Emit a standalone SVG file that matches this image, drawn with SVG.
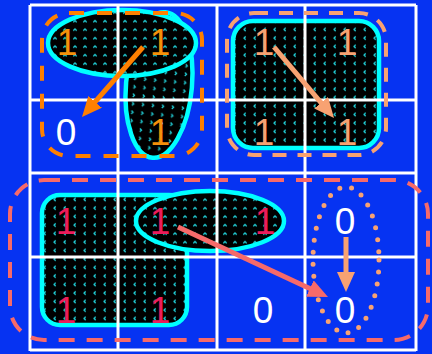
<svg xmlns="http://www.w3.org/2000/svg" width="432" height="354" viewBox="0 0 432 354">
<defs>
<style>
.bg{fill:#0633f2}
.grid line{stroke:#ffffff;stroke-width:3}
.grp{stroke:#00ffff;stroke-width:4.5}
.d{font-family:"Liberation Sans",Arial,sans-serif;font-size:37px;text-anchor:middle}
.z{fill:#ffffff}
.o{fill:#f5900a}
.p{fill:#f8a272}
.r{fill:#ec1c5a}
.dash{fill:none;stroke-width:4}
.arr{fill:none;stroke-width:5}
</style>
<pattern id="pa" width="10" height="8.5" patternUnits="userSpaceOnUse">
<rect width="10" height="8.5" fill="#000"/>
<path d="M3.3,5.2 L5,3.5 L6.7,5.2" fill="none" stroke="#22d4dc" stroke-width="1.3"/>
</pattern>
<pattern id="pb" width="10" height="8.5" patternUnits="userSpaceOnUse">
<rect width="10" height="8.5" fill="#000"/>
<path d="M3.8,2.3 L5.5,4 L3.8,5.7" fill="none" stroke="#22d4dc" stroke-width="1.3"/>
</pattern>
<pattern id="pc" width="10" height="8.5" patternUnits="userSpaceOnUse">
<rect width="10" height="8.5" fill="#000"/>
<path d="M5.7,2.3 L4,4 L5.7,5.7" fill="none" stroke="#22d4dc" stroke-width="1.3"/>
</pattern>
<marker id="mo" viewBox="0 0 20 18" refX="4" refY="9" markerWidth="20" markerHeight="18" markerUnits="userSpaceOnUse" orient="auto"><path d="M0,0 L20,9 L0,18 z" fill="#ff8000"/></marker>
<marker id="mp" viewBox="0 0 20 18" refX="4" refY="9" markerWidth="20" markerHeight="18" markerUnits="userSpaceOnUse" orient="auto"><path d="M0,0 L20,9 L0,18 z" fill="#f8a272"/></marker>
<marker id="mr" viewBox="0 0 20 18" refX="4" refY="9" markerWidth="20" markerHeight="18" markerUnits="userSpaceOnUse" orient="auto"><path d="M0,0 L20,9 L0,18 z" fill="#f76a6a"/></marker>
</defs>
<rect class="bg" x="0" y="0" width="432" height="354"/>

<g id="group-tl-vertical">
<ellipse class="grp" cx="159" cy="85" rx="33" ry="73" transform="rotate(5 159 85)" fill="url(#pb)"/>
</g>
<g id="group-tl-horizontal">
<ellipse class="grp" cx="122" cy="43" rx="74" ry="33" fill="url(#pa)"/>
</g>
<g id="group-tr-quad">
<rect class="grp" x="233" y="21" width="146" height="127" rx="20" fill="url(#pc)"/>
</g>
<g id="group-bl-quad">
<rect class="grp" x="42" y="195" width="145" height="130" rx="18" fill="url(#pc)"/>
</g>
<g id="group-b-pair">
<ellipse class="grp" cx="210" cy="221" rx="74" ry="30" fill="url(#pa)"/>
</g>

<g id="grid" class="grid">
<line x1="30" y1="5" x2="30" y2="351"/>
<line x1="118" y1="5" x2="118" y2="351"/>
<line x1="217" y1="5" x2="217" y2="351"/>
<line x1="305" y1="5" x2="305" y2="351"/>
<line x1="416" y1="5" x2="416" y2="351"/>
<line x1="30" y1="5" x2="416" y2="5"/>
<line x1="30" y1="100" x2="416" y2="100"/>
<line x1="30" y1="173" x2="416" y2="173"/>
<line x1="30" y1="257" x2="416" y2="257"/>
<line x1="30" y1="350" x2="416" y2="350"/>
</g>

<g id="region-tl">
<rect class="dash" x="42" y="13" width="160" height="143" rx="27" stroke="#ff8000" stroke-dasharray="15 13"/>
</g>
<g id="region-tr">
<rect class="dash" x="227" y="13" width="159" height="142" rx="27" stroke="#f8a272" stroke-dasharray="14 11"/>
</g>
<g id="region-bottom">
<rect class="dash" x="10" y="180" width="418" height="160" rx="34" stroke="#f76a6a" stroke-dasharray="16 12"/>
</g>
<g id="region-col">
<ellipse cx="346" cy="260" rx="33" ry="73" fill="none" stroke="#f8a272" stroke-width="5" stroke-dasharray="0 12" stroke-linecap="round"/>
</g>

<g id="cells">
<text class="d o" x="67" y="55">1</text>
<text class="d o" x="160" y="55">1</text>
<text class="d z" x="66" y="145">0</text>
<text class="d o" x="160" y="145">1</text>
<text class="d p" x="264" y="55">1</text>
<text class="d p" x="347" y="55">1</text>
<text class="d p" x="264" y="145">1</text>
<text class="d p" x="347" y="145">1</text>
<text class="d r" x="66" y="234">1</text>
<text class="d r" x="160" y="234">1</text>
<text class="d r" x="265" y="234">1</text>
<text class="d z" x="345" y="234">0</text>
<text class="d r" x="66" y="323">1</text>
<text class="d r" x="160" y="323">1</text>
<text class="d z" x="263" y="323">0</text>
<text class="d z" x="345" y="323">0</text>
</g>

<g id="connectors">
<line class="arr" x1="143" y1="47" x2="92.5" y2="104.9" stroke="#ff8000" marker-end="url(#mo)"/>
<line class="arr" x1="274" y1="47" x2="323.7" y2="105.8" stroke="#f8a272" marker-end="url(#mp)"/>
<line class="arr" x1="178" y1="227" x2="313.5" y2="290.2" stroke="#f76a6a" marker-end="url(#mr)"/>
<line class="arr" x1="346" y1="237" x2="346" y2="276" stroke="#f8a272" marker-end="url(#mp)"/>
</g>
</svg>
